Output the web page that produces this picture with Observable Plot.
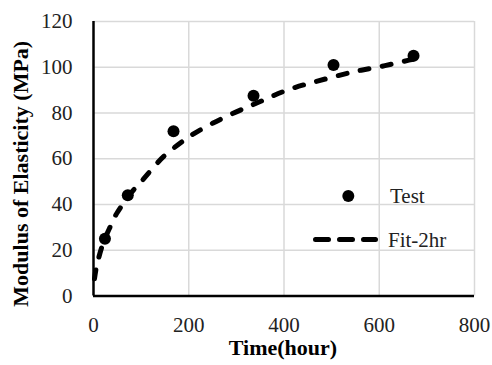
<!DOCTYPE html>
<html>
<head>
<meta charset="utf-8">
<script src="https://cdn.jsdelivr.net/npm/d3@7"></script>
<script src="https://cdn.jsdelivr.net/npm/@observablehq/plot@0.6"></script>
<style>
  html, body { margin: 0; padding: 0; background: #fff; }
  #chart { position: relative; width: 492px; height: 365px; }
  #chart svg, #chart svg text { font-family: 'Liberation Serif', 'Times New Roman', serif !important; }
</style>
</head>
<body>
<div id="chart"></div>
<script>
// Test data (time in hours, modulus in MPa)
const testTime = [24, 72, 168, 336, 504, 672];
const testModulus = [25, 44, 72, 87.5, 101, 105];

// Fit-2hr curve
const fitTime = [2, 5, 10, 20, 30, 40, 50, 75, 100, 125, 150, 183, 211, 250, 300, 350, 400, 450, 500, 550, 600, 650, 672];
const fitModulus = [7.5, 11.5, 16, 23, 28, 32.5, 36.5, 44, 50, 56, 61.5, 67, 71, 75.5, 80.5, 85, 89.5, 92.8, 95.6, 98.2, 100.2, 102.5, 103.5];

const xTicks = [0, 200, 400, 600, 800];
const yTicks = [0, 20, 40, 60, 80, 100, 120];
const xLabel = "Time(hour)";
const yLabel = "Modulus of Elasticity (MPa)";
const legendLabels = ["Test", "Fit-2hr"];

const testData = testTime.map((t, i) => ({t, e: testModulus[i]}));
const fitData = fitTime.map((t, i) => ({t, e: fitModulus[i]}));

const font = "'Liberation Serif', 'Times New Roman', serif";
const grid = "#d9d9d9";

const plot = Plot.plot({
  width: 492,
  height: 365,
  marginLeft: 93,
  marginRight: 18,
  marginTop: 21,
  marginBottom: 69.5,
  style: {fontFamily: font, fontSize: "21px", color: "#000", background: "#fff", overflow: "visible"},
  x: {domain: [0, 800]},
  y: {domain: [0, 120]},
  marks: [
    Plot.ruleX(xTicks.filter(d => d > 0), {stroke: grid, strokeWidth: 1.5}),
    Plot.ruleY(yTicks.filter(d => d > 0), {stroke: grid, strokeWidth: 1.5}),
    Plot.axisX({ticks: xTicks, tickSize: 0, tickPadding: 21, label: null, fontSize: 21, fontFamily: font, fill: "#222"}),
    Plot.axisY({ticks: yTicks, tickSize: 0, tickPadding: 21, label: null, fontSize: 21, fontFamily: font, fill: "#222"}),
    Plot.ruleX([0], {stroke: "#000", strokeWidth: 2.5}),
    Plot.ruleY([0], {stroke: "#000", strokeWidth: 2.5}),
    Plot.line(fitData, {x: "t", y: "e", stroke: "#000", strokeWidth: 5, strokeDasharray: "9,13.5", strokeLinecap: "round", curve: "natural"}),
    Plot.dot(testData, {x: "t", y: "e", r: 6, fill: "#000", stroke: null}),
    Plot.text([xLabel], {frameAnchor: "bottom", dy: 58.5, dx: -1, text: d => d, fontWeight: "bold", fontSize: 22, fontFamily: font, fill: "#000"}),
    Plot.text([yLabel], {frameAnchor: "left", textAnchor: "middle", rotate: -90, dx: -72.5, dy: 15, text: d => d, fontWeight: "bold", fontSize: 22, fontFamily: font, fill: "#000"})
  ]
});

document.getElementById("chart").appendChild(plot);

// Legend
const svg = d3.select(plot);
const lg = svg.append("g").attr("font-family", font).attr("font-size", 21).attr("fill", "#222").attr("text-anchor", "start");
lg.append("circle").attr("cx", 348.3).attr("cy", 196).attr("r", 6).attr("fill", "#000");
lg.append("text").attr("x", 390).attr("y", 196).attr("dy", "0.35em").text(legendLabels[0]);
lg.append("line").attr("x1", 315.5).attr("x2", 375.5).attr("y1", 239.5).attr("y2", 239.5)
  .attr("stroke", "#000").attr("stroke-width", 5).attr("stroke-dasharray", "13,11").attr("stroke-linecap", "round");
lg.append("text").attr("x", 388).attr("y", 240).attr("dy", "0.35em").text(legendLabels[1]);
</script>
</body>
</html>
